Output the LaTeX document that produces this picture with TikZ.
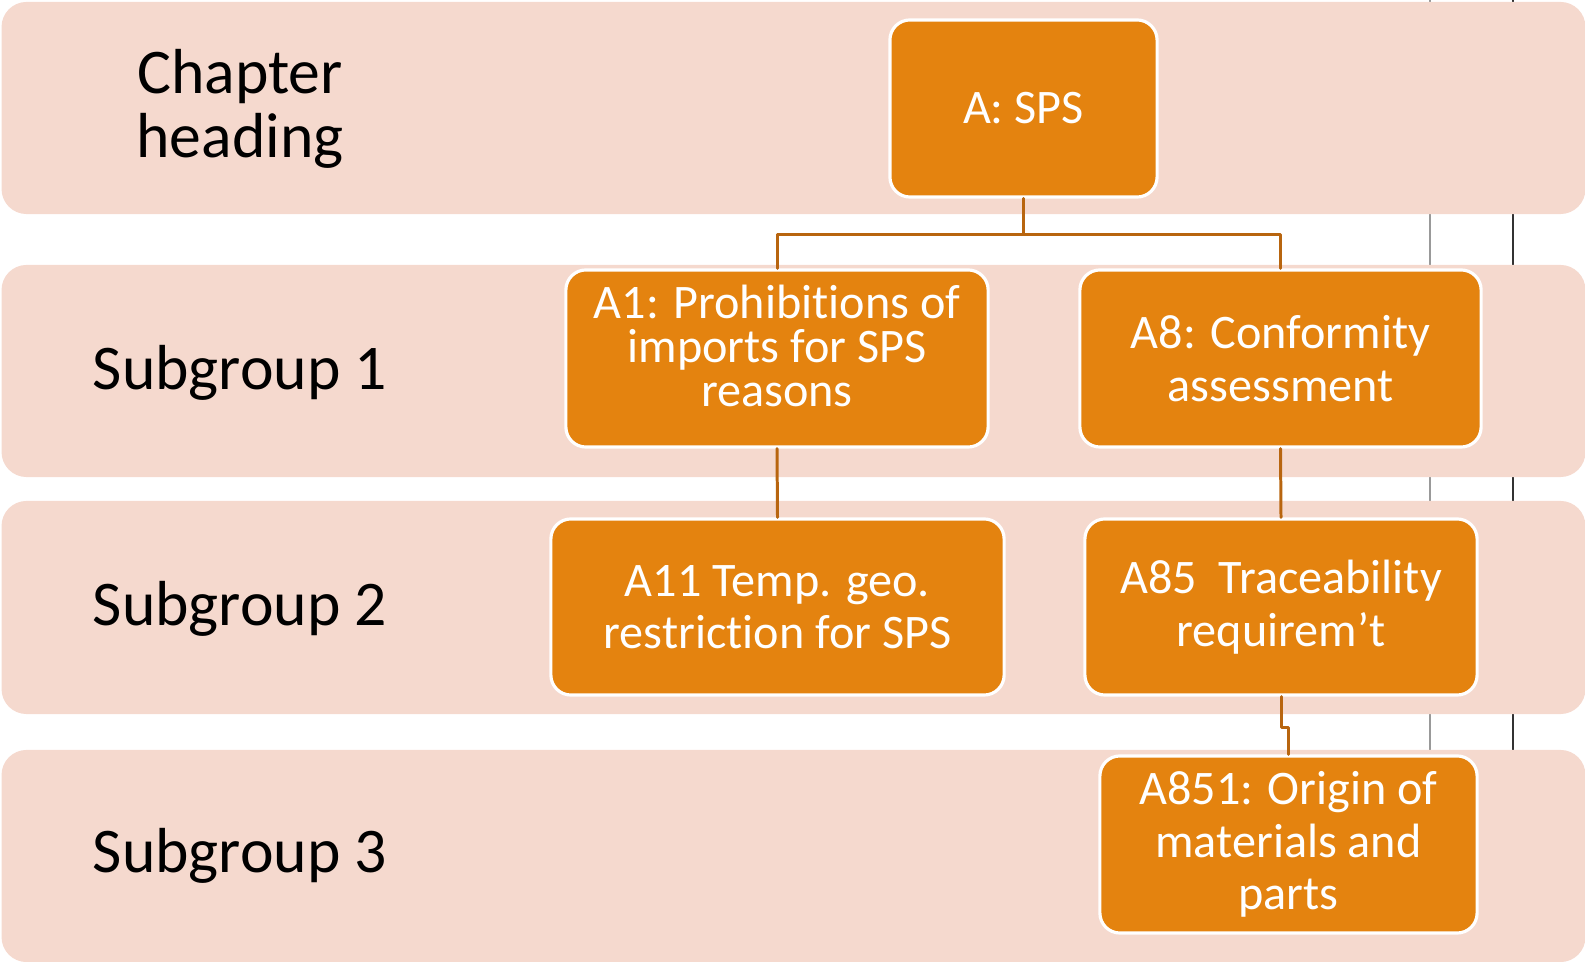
\documentclass[tikz,border=0pt]{standalone}
\usepackage{fontspec}
\setmainfont{Carlito}[Ligatures=NoCommon]
\usetikzlibrary{positioning}

\definecolor{bandpink}{HTML}{F5D9CE}
\definecolor{boxorange}{HTML}{E4830F}
\definecolor{connbrown}{HTML}{B8650F}

\tikzset{
  band/.style={fill=bandpink,draw=none,rounded corners=0.25cm,inner sep=0pt},
  lvl/.style={text=black,align=center,font=\fontsize{18.1}{18.4}\selectfont},
  box/.style={fill=boxorange,draw=white,line width=0.9pt,rounded corners=0.2cm,
    text=white,align=center,inner sep=0pt,font=\fontsize{13.7}{14.9}\selectfont},
  conn/.style={draw=connbrown,line width=0.85pt}
}

\begin{document}
\begin{tikzpicture}[line cap=round,line join=round,x=0.01cm,y=-0.01cm]
\useasboundingbox (0,0) rectangle (1585,962);
\draw [gray!80,line width=0.7pt] (1430,0)-- (1430,750);
\draw [black!80,line width=0.8pt] (1513,0)-- (1513,750);
\node [band,minimum width=15.83cm,minimum height=2.12cm] (bandone) at (793.5,108) {};
\node [band,minimum width=15.83cm,minimum height=2.12cm] (bandtwo) at (793.5,371) {};
\node [band,minimum width=15.83cm,minimum height=2.13cm] (bandthree) at (793.5,607.5) {};
\node [band,minimum width=15.83cm,minimum height=2.12cm] (bandfour) at (793.5,856) {};
\node [lvl] (lblchapter) at (240,109) {Chapter\\heading};
\node [lvl] (lblone) at (240,373) {Subgroup 1};
\node [lvl] (lbltwo) at (240,609) {Subgroup 2};
\node [lvl] (lblthree) at (240,856) {Subgroup 3};
\node [box,minimum width=2.67cm,minimum height=1.77cm] (sps) at (1023.5,108.5) {A: SPS};
\node [box,minimum width=4.22cm,minimum height=1.77cm] (aone) at (777,358.5) {};
\node [text=white,align=center,font=\fontsize{13.7}{12.4}\selectfont] (aonetext) at (777,346) {A1: Prohibitions of\\imports for SPS\\reasons};
\node [box,minimum width=4.01cm,minimum height=1.77cm] (aeight) at (1280.5,358.5) {A8: Conformity\\assessment};
\node [box,minimum width=4.53cm,minimum height=1.76cm] (aeleven) at (777.5,607) {A11 Temp. geo.\\restriction for SPS};
\node [box,minimum width=3.92cm,minimum height=1.76cm] (aeightfive) at (1281,607) {A85\ \ Traceability\\requirem’t};
\node [box,minimum width=3.77cm,minimum height=1.77cm] (aeightfiveone) at (1288.5,844.5) {A851: Origin of\\materials and\\parts};
\draw [conn] (sps.south)-- ++(0,36) -| (aone.north);
\draw [conn] (sps.south)-- ++(0,36) -| (aeight.north);
\draw [conn] (aone.south)-- (aeleven.north);
\draw [conn] (aeight.south)-- (aeightfive.north);
\draw [conn] (aeightfive.south)-- ++(0,31) -| (aeightfiveone.north);
\end{tikzpicture}
\end{document}
